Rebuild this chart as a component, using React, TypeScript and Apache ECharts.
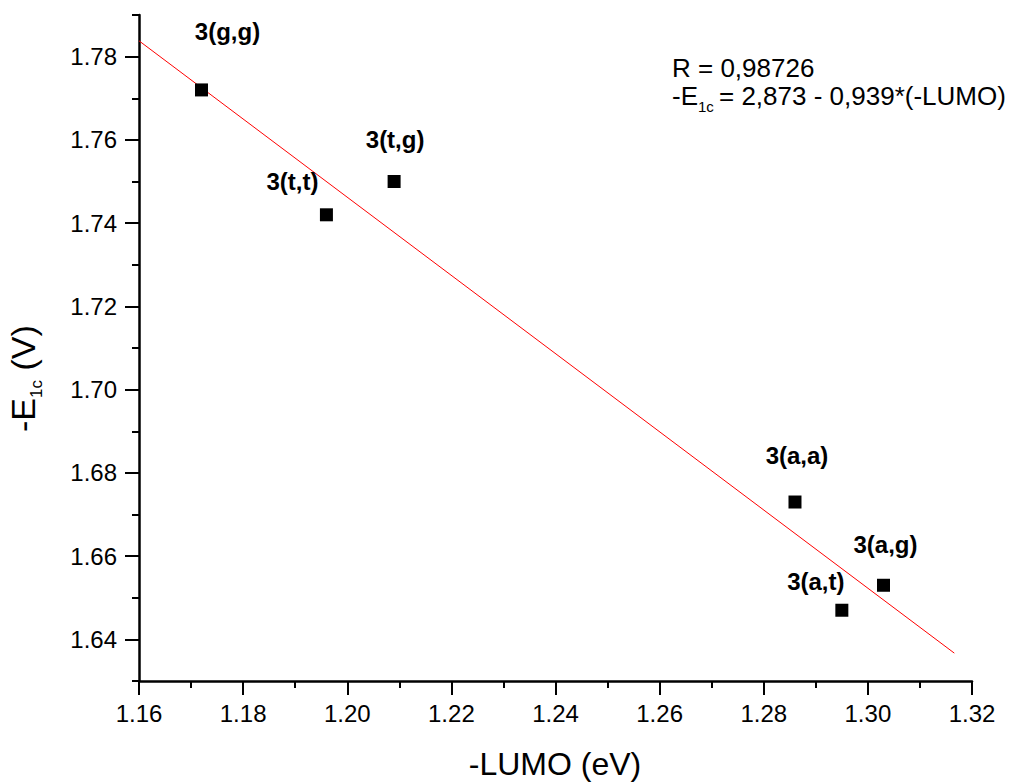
import React, { useEffect, useRef } from "react";
import * as echarts from "echarts";

const pointNames = ["3(g,g)", "3(t,t)", "3(t,g)", "3(a,a)", "3(a,t)", "3(a,g)"];
const lumoValues = [1.172, 1.196, 1.209, 1.286, 1.295, 1.303];
const e1cValues = [1.772, 1.742, 1.75, 1.673, 1.647, 1.653];

const fitLineX = [1.16, 1.3166];
const fitLineY = [1.7838, 1.6367];

const xMajorTicks = [1.16, 1.18, 1.2, 1.22, 1.24, 1.26, 1.28, 1.3, 1.32];
const xMinorTicks = [1.17, 1.19, 1.21, 1.23, 1.25, 1.27, 1.29, 1.31];
const yMajorTicks = [1.64, 1.66, 1.68, 1.7, 1.72, 1.74, 1.76, 1.78];
const yMinorTicks = [1.63, 1.65, 1.67, 1.69, 1.71, 1.73, 1.75, 1.77, 1.79];

const xTitle = "-LUMO (eV)";
const yTitleMain = "-E";
const yTitleSub = "1c";
const yTitleUnit = " (V)";
const rText = "R = 0,98726";
const eqLead = "-E";
const eqSub = "1c";
const eqRest = "= 2,873 - 0,939*(-LUMO)";

// label placement (pixel offsets relative to marker centre)
const labelOffsets: [number, number][] = [
  [26, -58],
  [-34, -33],
  [1, -42],
  [2, -47],
  [-26, -29],
  [2, -41],
];

const FONT = "'Liberation Sans', Arial, Helvetica, sans-serif";

export default function App() {
  const ref = useRef<HTMLDivElement>(null);

  useEffect(() => {
    if (!ref.current) return;
    const chart = echarts.init(ref.current, undefined, { renderer: "svg" });

    const axisLineStyle = { color: "#000", width: 2.5 };
    const tickStyle = { color: "#000", width: 2 };
    const xBase = {
      type: "value" as const,
      min: 1.16,
      max: 1.32,
      position: "bottom" as const,
      splitLine: { show: false },
    };
    const yBase = {
      type: "value" as const,
      min: 1.63,
      max: 1.79,
      position: "left" as const,
      splitLine: { show: false },
    };

    const txt = (text: string, x: number, y: number, size: number, align = "left") => ({
      type: "text",
      x,
      y,
      style: {
        text,
        font: `${size}px ${FONT}`,
        fill: "#000",
        textAlign: align,
        textVerticalAlign: "middle",
      },
    });

    chart.setOption({
      animation: false,
      backgroundColor: "#fff",
      textStyle: { fontFamily: FONT },
      grid: { left: 139, right: 39, top: 15, bottom: 102, containLabel: false },
      xAxis: [
        {
          ...xBase,
          axisLine: { show: true, onZero: false, lineStyle: axisLineStyle },
          axisTick: { show: true, customValues: xMinorTicks, length: 7, lineStyle: tickStyle },
          axisLabel: { show: false },
        },
        {
          ...xBase,
          axisLine: { show: false, onZero: false },
          axisTick: { show: true, customValues: xMajorTicks, length: 14, lineStyle: tickStyle },
          axisLabel: {
            show: true,
            customValues: xMajorTicks,
            formatter: (v: number) => v.toFixed(2),
            margin: 20,
            fontSize: 24,
            color: "#000",
            fontFamily: FONT,
          },
        },
      ],
      yAxis: [
        {
          ...yBase,
          axisLine: { show: true, onZero: false, lineStyle: axisLineStyle },
          axisTick: { show: true, customValues: yMinorTicks, length: 7, lineStyle: tickStyle },
          axisLabel: { show: false },
        },
        {
          ...yBase,
          axisLine: { show: false, onZero: false },
          axisTick: { show: true, customValues: yMajorTicks, length: 14, lineStyle: tickStyle },
          axisLabel: {
            show: true,
            customValues: yMajorTicks,
            formatter: (v: number) => v.toFixed(2),
            margin: 22,
            fontSize: 24,
            color: "#000",
            fontFamily: FONT,
          },
        },
      ],
      series: [
        {
          type: "line",
          xAxisIndex: 0,
          yAxisIndex: 0,
          data: fitLineX.map((x, i) => [x, fitLineY[i]]),
          showSymbol: false,
          symbol: "none",
          lineStyle: { color: "#ff0000", width: 1 },
          silent: true,
          z: 2,
        },
        {
          type: "scatter",
          xAxisIndex: 0,
          yAxisIndex: 0,
          symbol: "rect",
          symbolSize: 13,
          itemStyle: { color: "#000", opacity: 1 },
          emphasis: { disabled: true },
          z: 3,
          label: {
            show: true,
            position: "inside",
            formatter: "{b}",
            fontWeight: "bold",
            fontSize: 24,
            color: "#000",
            opacity: 1,
            fontFamily: FONT,
          },
          data: pointNames.map((n, i) => ({
            name: n,
            value: [lumoValues[i], e1cValues[i]],
            label: { offset: labelOffsets[i] },
          })),
        },
      ],
      graphic: [
        txt(xTitle, 555, 764, 32, "center"),
        {
          type: "group",
          x: 23,
          y: 379,
          rotation: Math.PI / 2,
          children: [
            txt(yTitleMain, -53, 0, 34),
            txt(yTitleSub, -19, 13, 17),
            txt(yTitleUnit, -1, 0, 34),
          ],
        },
        txt(rText, 672, 68, 26),
        txt(eqLead, 672, 96, 26),
        txt(eqSub, 698, 106, 15),
        txt(eqRest, 719, 96, 26),
      ],
    });

    return () => chart.dispose();
  }, []);

  return (
    <div
      ref={ref}
      style={{ position: "fixed", left: 0, top: 0, width: 1011, height: 783, background: "#fff" }}
    />
  );
}
